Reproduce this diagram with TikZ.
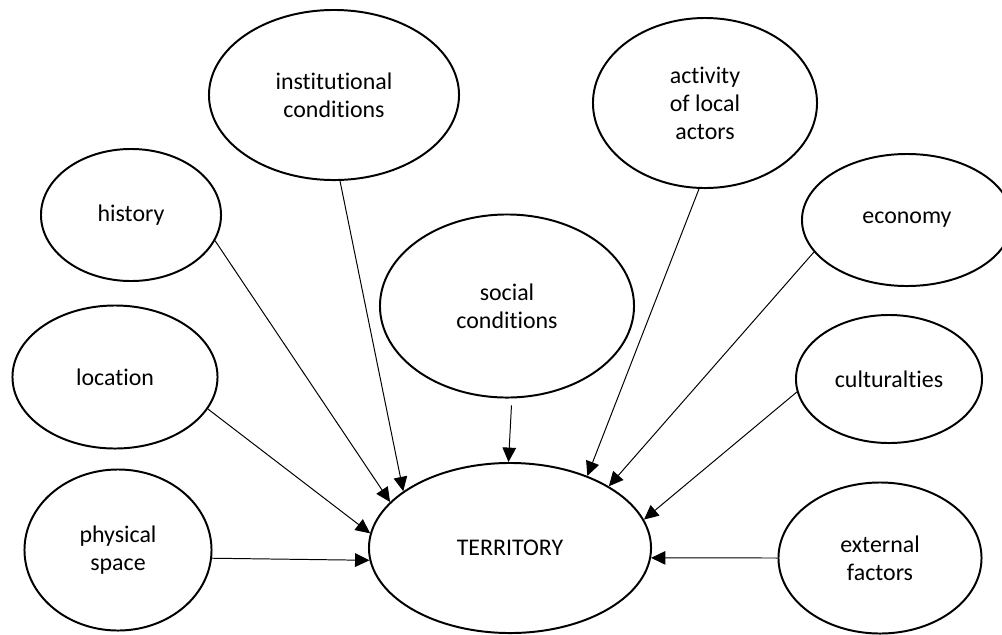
\documentclass[tikz,border=0pt]{standalone}
\usepackage{fontspec}
\setmainfont{Carlito}[Ligatures={NoCommon}]
\usetikzlibrary{shapes.geometric,arrows.meta}
\tikzset{
  factor/.style={draw, ellipse, line width=1.4pt, inner sep=0pt, align=center,
    font=\fontsize{17}{20}\selectfont},
  infl/.style={-{Triangle[length=3.6mm,width=3.4mm]}, line width=0.7pt}
}
\begin{document}
\begin{tikzpicture}[x=0.025cm,y=-0.025cm]
\useasboundingbox (0,0) rectangle (1002,634);
\node[factor, minimum width=6.25cm, minimum height=4.25cm] (inst) at (334,95) {institutional\\conditions};
\node[factor, minimum width=5.6cm, minimum height=4.25cm] (act) at (705,103) {activity\\of local\\actors};
\node[factor, minimum width=4.5cm, minimum height=3.3cm] (hist) at (131,215) {history};
\node[factor, minimum width=5.25cm, minimum height=3.3cm] (econ) at (907,220) {economy};
\node[factor, minimum width=6.35cm, minimum height=4.575cm] (soc) at (507,306) {social\\conditions};
\node[factor, minimum width=5.125cm, minimum height=3.575cm] (loc) at (115,377) {location};
\node[factor, minimum width=4.65cm, minimum height=3.2cm] (cult) at (889,379) {culturalties};
\node[factor, minimum width=4.675cm, minimum height=4.025cm] (phys) at (118,550) {physical\\space};
\node[factor, minimum width=7.05cm, minimum height=4.25cm] (terr) at (510,548) {TERRITORY};
\node[factor, minimum width=5.075cm, minimum height=3.775cm] (ext) at (880,558) {external\\factors};

\draw[infl] (hist.-17) -- (terr.159);
\draw[infl] (inst.-86) -- (terr.152);
\draw[infl] (loc.-19) -- (terr.174);
\draw[infl] (phys.-5) -- (terr.185);
\draw[infl, shorten <=5pt] (soc.-87) -- (terr.91);
\draw[infl] (act.-94) -- (terr.43);
\draw[infl] (econ.199) -- (terr.32);
\draw[infl] (cult.188) -- (terr.12);
\draw[infl] (ext.180) -- (terr.-4);
\end{tikzpicture}
\end{document}
